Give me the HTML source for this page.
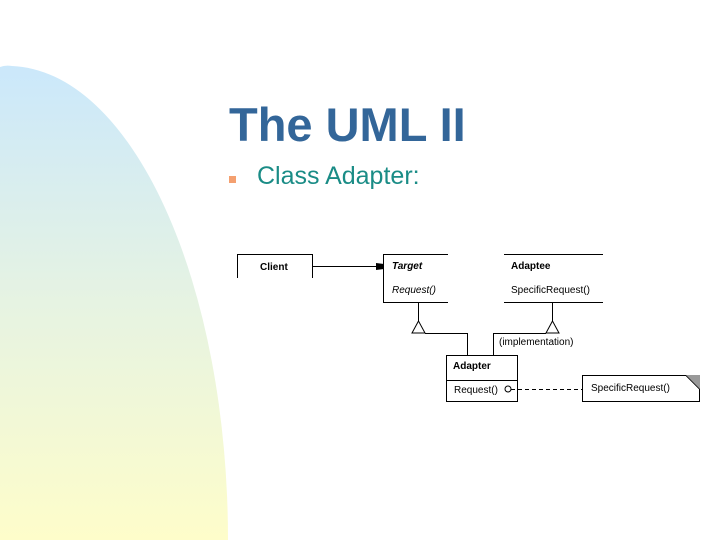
<!DOCTYPE html>
<html><head><meta charset="utf-8"><style>
body{margin:0;width:720px;height:540px;overflow:hidden;background:#fff;font-family:"Liberation Sans",sans-serif;}
</style></head><body>
<svg width="720" height="540" viewBox="0 0 720 540" xmlns="http://www.w3.org/2000/svg" style="position:absolute;left:0;top:0">
<defs><linearGradient id="g" x1="0" y1="0" x2="0" y2="1"><stop offset="0" stop-color="#cbe8fb"/><stop offset="0.5" stop-color="#e6f3e2"/><stop offset="1" stop-color="#fefdca"/></linearGradient></defs>
<path d="M0,540 L0,67 Q5,65 12,66 A220,474 0 0 1 228,540 Z" fill="url(#g)"/>
<text x="229" y="141" font-size="47" font-weight="bold" fill="#336699">The UML II</text>
<rect x="229" y="176" width="7" height="7" fill="#f4a070"/>
<text x="257" y="184" font-size="25" fill="#1a8c86">Class Adapter:</text>
<g stroke="#000" stroke-width="1" fill="none">
<path d="M237.5,278 V254.5 H312.5 V278"/>
<path d="M312,266.5 H377"/>
<path d="M448,254.5 H383.5 V302.5 H448"/>
<path d="M504,254.5 H603 M504,302.5 H603"/>
<path d="M418.5,302 V321 M552.5,302 V321"/>
<path d="M418.5,321 L412,333 L425,333 Z M552.5,321 L546,333 L559,333 Z" fill="#fff"/>
<path d="M425,333.5 H467.5 V355 M546,333.5 H493.5 V355"/>
<rect x="446.5" y="355.5" width="71" height="46" fill="#fff"/>
<path d="M446.5,380.5 H517.5"/>
<circle cx="508" cy="389" r="3"/>
<path d="M511,389.5 H582" stroke-dasharray="4,3"/>
<path d="M582.5,375.5 H686 L699.5,389 V401.5 H582.5 Z" fill="#fff"/>
</g>
<path d="M686,375 L700,375 L700,389 Z" fill="#999"/>
<path d="M376,263 L384,264 L384,269 L376,270 Z" fill="#000"/>
<g font-size="10" fill="#000">
<text x="260" y="270" font-weight="bold">Client</text>
<text x="392" y="269" font-weight="bold" font-style="italic">Target</text>
<text x="392" y="293" font-style="italic">Request()</text>
<text x="511" y="269" font-weight="bold">Adaptee</text>
<text x="511" y="293">SpecificRequest()</text>
<text x="499" y="345">(implementation)</text>
<text x="453" y="369" font-weight="bold">Adapter</text>
<text x="454" y="393">Request()</text>
<text x="591" y="391">SpecificRequest()</text>
</g>
</svg>
</body></html>
